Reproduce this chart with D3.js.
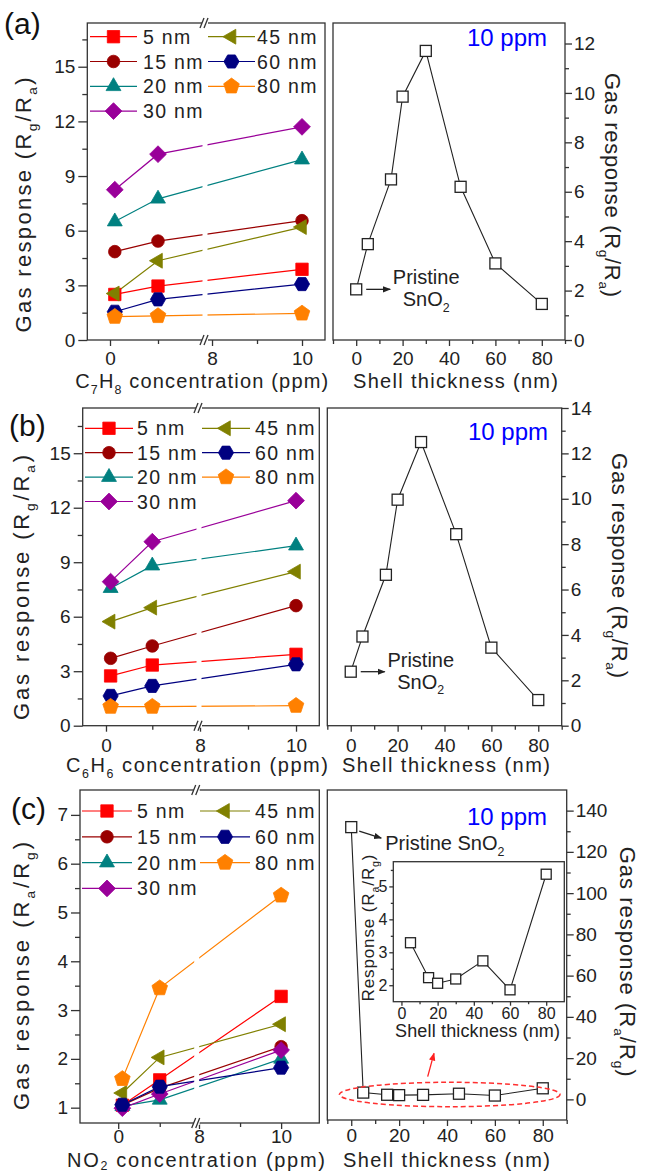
<!DOCTYPE html>
<html>
<head>
<meta charset="utf-8">
<script src="https://cdn.jsdelivr.net/npm/d3@7"></script>
<style>
  body { margin: 0; background: #fff; }
  svg { display: block; font-family: "Liberation Sans", Arial, sans-serif; }
</style>
</head>
<body>
<script>
// ---- data ----
const conc = [0.1, 1, 10];                       // ppm
const shells = ["5 nm", "15 nm", "20 nm", "30 nm", "45 nm", "60 nm", "80 nm"];
const thickness = [0, 5, 15, 20, 30, 45, 60, 80]; // 0 = pristine SnO2

// (a) C7H8, one row per shell
const c7h8 = [
  [2.50, 2.96, 3.88],
  [4.85, 5.43, 6.55],
  [6.50, 7.75, 9.90],
  [8.25, 10.2, 11.7],
  [2.55, 4.35, 6.20],
  [1.55, 2.23, 3.07],
  [1.28, 1.32, 1.46]
];
const c7h8Shell = [2.05, 3.88, 6.50, 9.85, 11.7, 6.20, 3.10, 1.46];

// (b) C6H6
const c6h6 = [
  [2.74, 3.34, 3.93],
  [3.71, 4.39, 6.61],
  [7.57, 8.81, 9.91],
  [7.93, 10.13, 12.39],
  [5.73, 6.50, 8.48],
  [1.64, 2.19, 3.38],
  [1.05, 1.05, 1.10]
];
const c6h6Shell = [2.38, 3.93, 6.65, 9.96, 12.5, 8.44, 3.44, 1.13];

// (c) NO2
const no2 = [
  [1.05, 1.57, 3.28],
  [1.05, 1.40, 2.25],
  [1.03, 1.16, 2.00],
  [0.99, 1.28, 2.18],
  [1.30, 2.03, 2.71],
  [1.06, 1.43, 1.82],
  [1.59, 3.45, 5.35]
];
const no2Shell = [132, 3.29, 2.23, 2.06, 2.19, 2.74, 1.86, 5.37];
const insetThickness = [5, 15, 20, 30, 45, 60, 80];
const insetValues = [3.29, 2.23, 2.06, 2.19, 2.74, 1.86, 5.37];

// tick values
const concTicks = [0, 8, 10];
const concMinor = [1, 9];
const thickTicks = [0, 20, 40, 60, 80];
const thickMinor = [-10, 10, 30, 50, 70, 90];
const respTicks = [0, 3, 6, 9, 12, 15];
const respMinor = [1.5, 4.5, 7.5, 10.5, 13.5, 16.5];
const no2Ticks = [1, 2, 3, 4, 5, 6, 7];
const no2Minor = [1.5, 2.5, 3.5, 4.5, 5.5, 6.5];
const peakTicksA = [0, 2, 4, 6, 8, 10, 12];
const peakMinorA = [1, 3, 5, 7, 9, 11];
const peakTicksB = [0, 2, 4, 6, 8, 10, 12, 14];
const peakMinorB = [1, 3, 5, 7, 9, 11, 13];
const peakTicksC = [0, 20, 40, 60, 80, 100, 120, 140];
const peakMinorC = [10, 30, 50, 70, 90, 110, 130];
const insetYTicks = [2, 3, 4, 5];
const insetYMinor = [2.5, 3.5, 4.5, 5.5];
const insetXMinor = [10, 30, 50, 70];

// ---- styles ----
const colors = ["#ff0000", "#990000", "#008080", "#990099", "#808000", "#000080", "#ff8000"];
const ink = "#222";
const tickFont = 19;

function polygon(n, rot) {
  return {
    draw(ctx, r) {
      for (let i = 0; i < n; i++) {
        const a = rot + i * 2 * Math.PI / n;
        if (i) ctx.lineTo(r * Math.cos(a), r * Math.sin(a));
        else ctx.moveTo(r * Math.cos(a), r * Math.sin(a));
      }
      ctx.closePath();
    }
  };
}
const symSquare = { draw(ctx, r) { ctx.rect(-r, -r, 2 * r, 2 * r); } };
const symCircle = { draw(ctx, r) { ctx.moveTo(r, 0); ctx.arc(0, 0, r, 0, 2 * Math.PI); } };
const symbols = [
  [symSquare, 6.2],
  [symCircle, 6.3],
  [polygon(3, -Math.PI / 2), 8.6],
  [polygon(4, -Math.PI / 2), 8.4],
  [polygon(3, Math.PI), 8.6],
  [polygon(6, 0), 7.6],
  [polygon(5, -Math.PI / 2), 8.2]
];

const svg = d3.select("body").append("svg")
    .attr("width", 649)
    .attr("height", 1174);

svg.append("rect").attr("width", 649).attr("height", 1174).attr("fill", "#fff");

const defs = svg.append("defs");
[["black", ink], ["red", "#ff2020"]].forEach(([id, c]) => {
  defs.append("marker")
      .attr("id", "ah-" + id)
      .attr("viewBox", "0 0 10 10")
      .attr("refX", 9).attr("refY", 5)
      .attr("markerWidth", 8).attr("markerHeight", 8)
      .attr("markerUnits", "userSpaceOnUse")
      .attr("orient", "auto")
    .append("path")
      .attr("d", "M0,1L10,5L0,9Z")
      .attr("fill", c);
});

// draw one set of ticks (with or without labels)
function ticks(g, axisFn, scale, values, size, pad, labels, fs) {
  const a = axisFn(scale).tickValues(values).tickSize(size).tickPadding(pad);
  a.tickFormat(labels ? d3.format("d") : "");
  const sel = g.append("g").call(a);
  sel.select(".domain").remove();
  sel.attr("font-family", null).attr("font-size", fs);
  sel.selectAll("line").attr("stroke", "#333").attr("stroke-width", 1.3);
  sel.selectAll("text").attr("fill", ink);
  return sel;
}

// text with subscripts; parts: strings, or [string] for a subscript
function rich(g, parts, o) {
  const shift = o.size * (o.subShift || 0.28);
  const t = g.append("text")
      .attr("transform", `translate(${o.x},${o.y}) rotate(${o.rot || 0})`)
      .attr("text-anchor", o.anchor || "middle")
      .attr("font-size", o.size)
      .attr("fill", o.fill || ink);
  if (o.len) t.attr("textLength", o.len).attr("lengthAdjust", "spacing");
  let down = false;
  parts.forEach(p => {
    const sub = Array.isArray(p);
    const ts = t.append("tspan").text(sub ? p[0] : p);
    if (sub) { ts.attr("font-size", o.size * 0.62).attr("dy", shift); down = true; }
    else if (down) { ts.attr("dy", -shift); down = false; }
  });
  return t;
}

function frame(g, P, fill) {
  g.append("rect")
      .attr("x", P.l).attr("y", P.t)
      .attr("width", P.r - P.l).attr("height", P.b - P.t)
      .attr("fill", fill || "none")
      .attr("stroke", "#333").attr("stroke-width", 1.3);
}

function leftPanel(P, series) {
  const x = d3.scaleLinear().domain(P.xd).range([P.l, P.bx, P.bx, P.r]);
  const y = d3.scaleLinear().domain(P.yd).range([P.b, P.t]);
  const g = svg.append("g");

  const line = d3.line().x((d, i) => x(conc[i])).y(d => y(d));
  series.forEach((s, k) => {
    g.append("path")
        .attr("d", line(s))
        .attr("fill", "none")
        .attr("stroke", colors[k])
        .attr("stroke-width", 1.2);
  });

  // the lines are broken where the axis is broken
  g.append("rect")
      .attr("x", P.bx - 2.5).attr("y", P.t)
      .attr("width", 5).attr("height", P.b - P.t)
      .attr("fill", "#fff");

  series.forEach((s, k) => {
    g.append("g").selectAll("path")
      .data(s)
      .join("path")
        .attr("transform", (d, i) => `translate(${x(conc[i])},${y(d)})`)
        .attr("d", d3.symbol(symbols[k][0], symbols[k][1]))
        .attr("fill", colors[k])
        .attr("stroke", colors[k])
        .attr("stroke-width", 0.8);
  });

  frame(g, P);

  const gl = g.append("g").attr("transform", `translate(${P.l},0)`);
  ticks(gl, d3.axisLeft, y, P.yTicks, 9, 3, true, tickFont);
  ticks(gl, d3.axisLeft, y, P.yMinor, 5, 0, false, tickFont);
  const gb = g.append("g").attr("transform", `translate(0,${P.b})`);
  ticks(gb, d3.axisBottom, x, concTicks, 6, P.labPad, true, tickFont);
  ticks(gb, d3.axisBottom, x, concMinor, 4, 0, false, tickFont);

  // break marks on the top and bottom axes
  [P.t, P.b].forEach(yy => {
    g.append("rect")
        .attr("x", P.bx - 3).attr("y", yy - 2)
        .attr("width", 6).attr("height", 4)
        .attr("fill", "#fff");
    [-3, 1].forEach(dx => {
      g.append("line")
          .attr("x1", P.bx + dx - 2).attr("y1", yy + 5)
          .attr("x2", P.bx + dx + 2).attr("y2", yy - 5)
          .attr("stroke", "#333").attr("stroke-width", 1.3);
    });
  });

  // legend
  shells.forEach((name, k) => {
    const col = k < 4 ? 0 : 1;
    const row = k < 4 ? k : k - 4;
    const yy = P.leg.y + row * P.leg.dy;
    const c = P.leg.cols[col];
    g.append("line")
        .attr("x1", c[0]).attr("x2", c[1])
        .attr("y1", yy).attr("y2", yy)
        .attr("stroke", colors[k]).attr("stroke-width", 1.2);
    g.append("path")
        .attr("transform", `translate(${c[2]},${yy})`)
        .attr("d", d3.symbol(symbols[k][0], symbols[k][1])())
        .attr("fill", colors[k])
        .attr("stroke", colors[k])
        .attr("stroke-width", 0.8);
    g.append("text")
        .attr("x", c[3]).attr("y", yy)
        .attr("dy", "0.36em")
        .attr("font-size", 19.5)
        .attr("letter-spacing", 1.3)
        .attr("fill", ink)
        .text(name);
  });

  rich(g, P.yTitle, { x: P.yt[0], y: P.yt[1], rot: -90, size: 22, len: P.yt[2] });
  rich(g, P.xTitle, { x: P.xt[0], y: P.xt[1], size: 20, len: P.xt[2], subShift: P.subShift });
  g.append("text")
      .attr("x", P.tag[0]).attr("y", P.tag[1])
      .attr("font-size", 30)
      .attr("fill", "#111")
      .text(P.tag[2]);
}

function rightPanel(P, values) {
  const x = d3.scaleLinear().domain([-10, 90]).range([P.l, P.r]);
  const y = d3.scaleLinear().domain(P.yd).range([P.b, P.t]);
  const g = svg.append("g");

  frame(g, P);

  g.append("path")
      .attr("d", d3.line().x((d, i) => x(thickness[i])).y(d => y(d))(values))
      .attr("fill", "none")
      .attr("stroke", ink)
      .attr("stroke-width", 1.1);
  g.append("g").selectAll("rect")
    .data(values)
    .join("rect")
      .attr("x", (d, i) => x(thickness[i]) - 5.5)
      .attr("y", d => y(d) - 5.5)
      .attr("width", 11).attr("height", 11)
      .attr("fill", "#fff")
      .attr("stroke", ink)
      .attr("stroke-width", 1.3);

  const gr = g.append("g").attr("transform", `translate(${P.r},0)`);
  ticks(gr, d3.axisRight, y, P.yTicks, 7, 2, true, tickFont);
  ticks(gr, d3.axisRight, y, P.yMinor, 4, 0, false, tickFont);
  const gb = g.append("g").attr("transform", `translate(0,${P.b})`);
  ticks(gb, d3.axisBottom, x, thickTicks, 6, P.labPad, true, tickFont);
  ticks(gb, d3.axisBottom, x, thickMinor, 4, 0, false, tickFont);

  g.append("text")
      .attr("x", P.ppm[0]).attr("y", P.ppm[1])
      .attr("text-anchor", "end")
      .attr("font-size", 24)
      .attr("fill", "#0000ff")
      .text("10 ppm");

  rich(g, P.yTitle, { x: P.yt[0], y: P.yt[1], rot: 90, size: 22, len: P.yt[2] });
  rich(g, ["Shell thickness (nm)"], { x: P.xt[0], y: P.xt[1], size: 20, len: P.xt[2] });

  return { g, x, y };
}

// pristine note below the peak curve for (a) and (b)
function pristineNote(R) {
  const px = R.x(0), py = R.y(R.values[0]);
  R.g.append("line")
      .attr("x1", px + 10).attr("y1", py)
      .attr("x2", px + 34).attr("y2", py)
      .attr("stroke", ink).attr("stroke-width", 1.3)
      .attr("marker-end", "url(#ah-black)");
  R.g.append("text")
      .attr("x", px + 70).attr("y", py - 5)
      .attr("text-anchor", "middle")
      .attr("font-size", 20)
      .attr("fill", ink)
      .text("Pristine");
  rich(R.g, ["SnO", ["2"]], { x: px + 70, y: py + 17, size: 20 });
}

// ---- panel (a) ----
leftPanel({
  l: 87.3, r: 325, t: 23, b: 340, bx: 205,
  xd: [-0.473, 1.979, 7.844, 10.511], yd: [0, 17.4],
  yTicks: respTicks, yMinor: respMinor, labPad: 6,
  leg: { y: 36.7, dy: 24.8, cols: [[90, 137, 113.5, 143], [208, 255, 231.5, 257]] },
  yTitle: ["Gas response (R", ["g"], "/R", ["a"], ")"], yt: [31, 205, 255],
  xTitle: ["C", ["7"], "H", ["8"], " concentration (ppm)"], xt: [201.7, 388, 253],
  tag: [4, 34, "(a)"]
}, c7h8);
const ra = rightPanel({
  l: 333, r: 565, t: 23, b: 340, yd: [0, 12.83],
  yTicks: peakTicksA, yMinor: peakMinorA, labPad: 6,
  ppm: [547, 46],
  yTitle: ["Gas response (R", ["g"], "/R", ["a"], ")"], yt: [605, 185, 224],
  xt: [455.5, 388, 205]
}, c7h8Shell);
ra.values = c7h8Shell;
pristineNote(ra);

// ---- panel (b) ----
leftPanel({
  l: 82.7, r: 319.3, t: 408, b: 725.7, bx: 199,
  xd: [-0.503, 2.009, 7.979, 10.485], yd: [0, 17.49],
  yTicks: respTicks, yMinor: respMinor, labPad: 7,
  leg: { y: 428.3, dy: 24.4, cols: [[85, 133, 109, 137], [202, 250, 226, 255]] },
  yTitle: ["Gas response (R", ["g"], "/R", ["a"], ")"], yt: [29, 587.5, 265],
  xTitle: ["C", ["6"], "H", ["6"], " concentration (ppm)"], xt: [197, 772, 262],
  tag: [9, 436, "(b)"]
}, c6h6);
const rb = rightPanel({
  l: 327.3, r: 561.7, t: 408, b: 725.7, yd: [0, 14],
  yTicks: peakTicksB, yMinor: peakMinorB, labPad: 7,
  ppm: [548, 440],
  yTitle: ["Gas response (R", ["g"], "/R", ["a"], ")"], yt: [612, 565.5, 225],
  xt: [446, 772, 208]
}, c6h6Shell);
rb.values = c6h6Shell;
pristineNote(rb);

// ---- panel (c) ----
leftPanel({
  l: 80, r: 319.3, t: 790, b: 1123, bx: 196.7,
  xd: [-0.92, 1.89, 7.944, 10.93], yd: [0.686, 7.51],
  yTicks: no2Ticks, yMinor: no2Minor, labPad: 1,
  leg: { y: 811, dy: 25.8, cols: [[82, 132, 107, 137], [200, 250, 225, 255]] },
  yTitle: ["Gas response (R", ["a"], "/R", ["g"], ")"], yt: [29, 976, 268],
  xTitle: ["NO", ["2"], " concentration (ppm)"], xt: [196, 1166.5, 258], subShift: 0.18,
  tag: [11, 819, "(c)"]
}, no2);
const rc = rightPanel({
  l: 327.3, r: 566.7, t: 790, b: 1120, yd: [-10, 150],
  yTicks: peakTicksC, yMinor: peakMinorC, labPad: 3,
  ppm: [547, 825],
  yTitle: ["Gas response (R", ["a"], "/R", ["g"], ")"], yt: [620, 961.7, 230],
  xt: [446.5, 1166.5, 207]
}, no2Shell);

// pristine note for (c)
{
  const px = rc.x(0), py = rc.y(no2Shell[0]);
  rc.g.append("line")
      .attr("x1", px + 8).attr("y1", py + 4)
      .attr("x2", px + 30).attr("y2", py + 11)
      .attr("stroke", ink).attr("stroke-width", 1.3)
      .attr("marker-end", "url(#ah-black)");
  rich(rc.g, ["Pristine SnO", ["2"]], { x: px + 34, y: py + 23, size: 20, anchor: "start" });
}

// red dashed ellipse around the low values, and arrow to the inset
svg.append("ellipse")
    .attr("cx", 449.7).attr("cy", 1094.5)
    .attr("rx", 110.3).attr("ry", 12.2)
    .attr("fill", "none")
    .attr("stroke", "#ff3030")
    .attr("stroke-width", 1.5)
    .attr("stroke-dasharray", "5,3");
svg.append("line")
    .attr("x1", 427.7).attr("y1", 1076.7)
    .attr("x2", 434).attr("y2", 1053.3)
    .attr("stroke", "#ff2020").attr("stroke-width", 1.3)
    .attr("marker-end", "url(#ah-red)");

// inset
{
  const I = { l: 393.3, r: 564.3, t: 861.7, b: 1001.7 };
  const ix = d3.scaleLinear().domain([-4.5, 90]).range([I.l, I.r]);
  const iy = d3.scaleLinear().domain([1.5, 5.75]).range([I.b, I.t]);
  const g = svg.append("g");
  frame(g, I, "#fff");
  g.append("path")
      .attr("d", d3.line().x((d, i) => ix(insetThickness[i])).y(d => iy(d))(insetValues))
      .attr("fill", "none")
      .attr("stroke", ink)
      .attr("stroke-width", 1.1);
  g.append("g").selectAll("rect")
    .data(insetValues)
    .join("rect")
      .attr("x", (d, i) => ix(insetThickness[i]) - 5)
      .attr("y", d => iy(d) - 5)
      .attr("width", 10).attr("height", 10)
      .attr("fill", "#fff")
      .attr("stroke", ink)
      .attr("stroke-width", 1.3);
  const gl = g.append("g").attr("transform", `translate(${I.l},0)`);
  ticks(gl, d3.axisLeft, iy, insetYTicks, 4, 2, true, 16);
  ticks(gl, d3.axisLeft, iy, insetYMinor, 2.5, 0, false, 16);
  const gb = g.append("g").attr("transform", `translate(0,${I.b})`);
  ticks(gb, d3.axisBottom, ix, thickTicks, 4, 2, true, 16);
  ticks(gb, d3.axisBottom, ix, insetXMinor, 2.5, 0, false, 16);
  rich(g, ["Response (R", ["a"], "/R", ["g"], ")"], { x: 374, y: 928, rot: -90, size: 17, len: 147 });
  rich(g, ["Shell thickness (nm)"], { x: 477.5, y: 1037, size: 18, len: 165 });
}
</script>
</body>
</html>
